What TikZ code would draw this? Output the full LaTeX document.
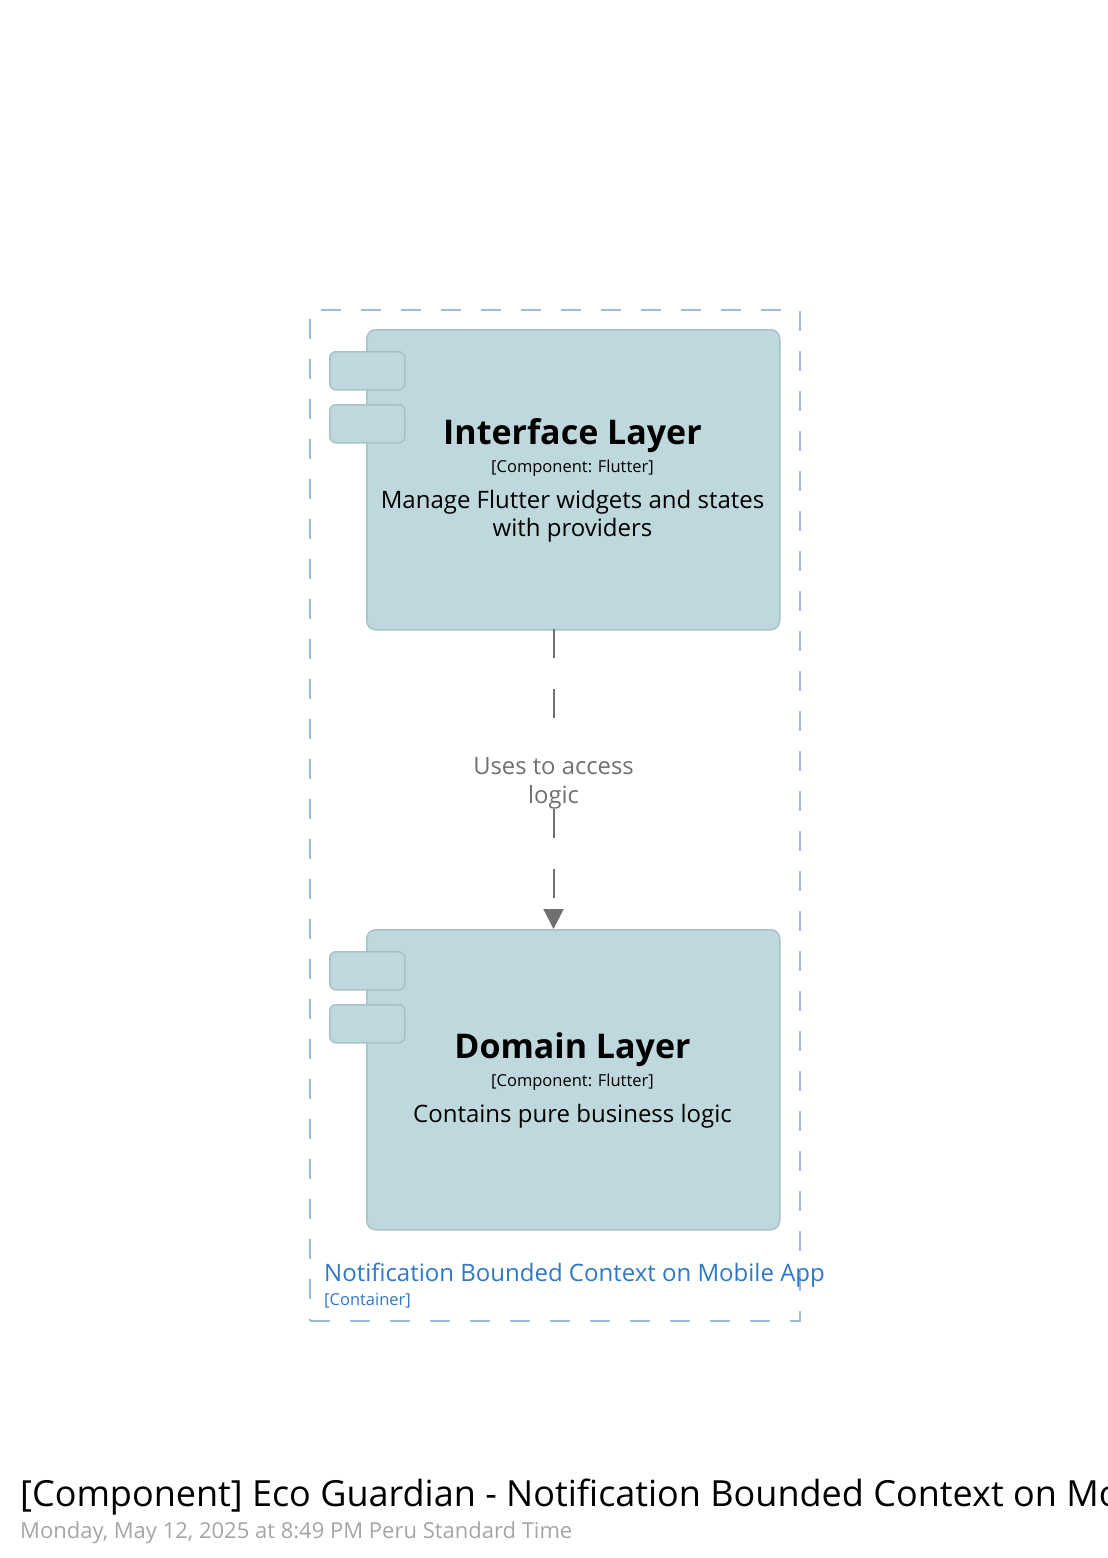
\documentclass[tikz,border=0pt]{standalone}
\usepackage{fontspec}
\setmainfont{Open Sans}
\usetikzlibrary{arrows.meta}
\definecolor{boxfill}{HTML}{BFD8DD}
\definecolor{boxline}{HTML}{A9C2C7}
\definecolor{ctr}{HTML}{9BBCE0}
\definecolor{ctrtext}{HTML}{2F78C3}
\definecolor{relgray}{HTML}{707070}
\definecolor{dategray}{HTML}{A5A5A5}
\tikzset{
  comp/.style={draw=boxline, fill=boxfill, line width=1.5pt, rounded corners=9pt},
  tab/.style={draw=boxline, fill=boxfill, line width=1.5pt, rounded corners=6pt},
  ctrbox/.style={draw=ctr, line width=1.8pt, dash pattern=on 20pt off 20pt},
  rel/.style={draw=relgray, line width=2pt, dash pattern=on 29pt off 31pt on 29pt off 91pt on 29pt off 31pt on 29pt off 200pt, -{Triangle[length=20pt,width=20pt]}},
  txt/.style={inner sep=0pt, anchor=base},
}
\newcommand{\fs}[1]{\fontsize{#1}{#1}\selectfont}
\begin{document}
\begin{tikzpicture}[x=1pt,y=-1pt]
\useasboundingbox (0,0) rectangle (1108,1558);
\clip (0,0) rectangle (1108,1558);
% container
\node[ctrbox, minimum width=490pt, minimum height=1011pt, anchor=north west, inner sep=0pt] (ctr) at (309,309) {};
% interface layer
\node[comp, minimum width=413pt, minimum height=300pt, anchor=north west, inner sep=0pt] (ifl) at (366,329) {};
\node[tab, minimum width=75pt, minimum height=38pt, anchor=north west, inner sep=0pt] (ift1) at (329,351) {};
\node[tab, minimum width=75pt, minimum height=38pt, anchor=north west, inner sep=0pt] (ift2) at (329,404) {};
\node[txt] (iflname) at (572.5,444) {\fs{34}\bfseries Interface Layer};
\node[txt] (ifltech) at (572.5,472) {\fs{16.5}[Component: Flutter]};
\node[txt] (ifld1) at (572.5,508) {\fs{24}Manage Flutter widgets and states};
\node[txt] (ifld2) at (572.5,536) {\fs{24}with providers};
% domain layer
\node[comp, minimum width=413pt, minimum height=300pt, anchor=north west, inner sep=0pt] (dom) at (366,929) {};
\node[tab, minimum width=75pt, minimum height=38pt, anchor=north west, inner sep=0pt] (dt1) at (329,951) {};
\node[tab, minimum width=75pt, minimum height=38pt, anchor=north west, inner sep=0pt] (dt2) at (329,1004) {};
\node[txt] (domname) at (572.5,1058) {\fs{34}\bfseries Domain Layer};
\node[txt] (domtech) at (572.5,1086) {\fs{16.5}[Component: Flutter]};
\node[txt] (domd1) at (572.5,1122) {\fs{24}Contains pure business logic};
% relationship
\coordinate (rs) at (553.5,629);
\coordinate (re) at (553.5,929);
\draw[rel] (rs) -- (re);
\node[txt, text=relgray, font=\fs{23.8}] (rellbl1) at (553.5,774) {Uses to access};
\node[txt, text=relgray, font=\fs{23.8}] (rellbl2) at (553.5,803) {logic};
% container label
\node[txt, anchor=base west, text=ctrtext] (ctrname) at (324,1281) {\fs{24}Notification Bounded Context on Mobile App};
\node[txt, anchor=base west, text=ctrtext] (ctrtype) at (324,1305) {\fs{16.5}[Container]};
% title
\node[txt, anchor=base west] (title) at (20,1506) {\fs{36}[Component] Eco Guardian - Notification Bounded Context on Mobile App};
\node[txt, anchor=base west, text=dategray] (date) at (20,1538) {\fs{22}Monday, May 12, 2025 at 8:49 PM Peru Standard Time};
\end{tikzpicture}
\end{document}
